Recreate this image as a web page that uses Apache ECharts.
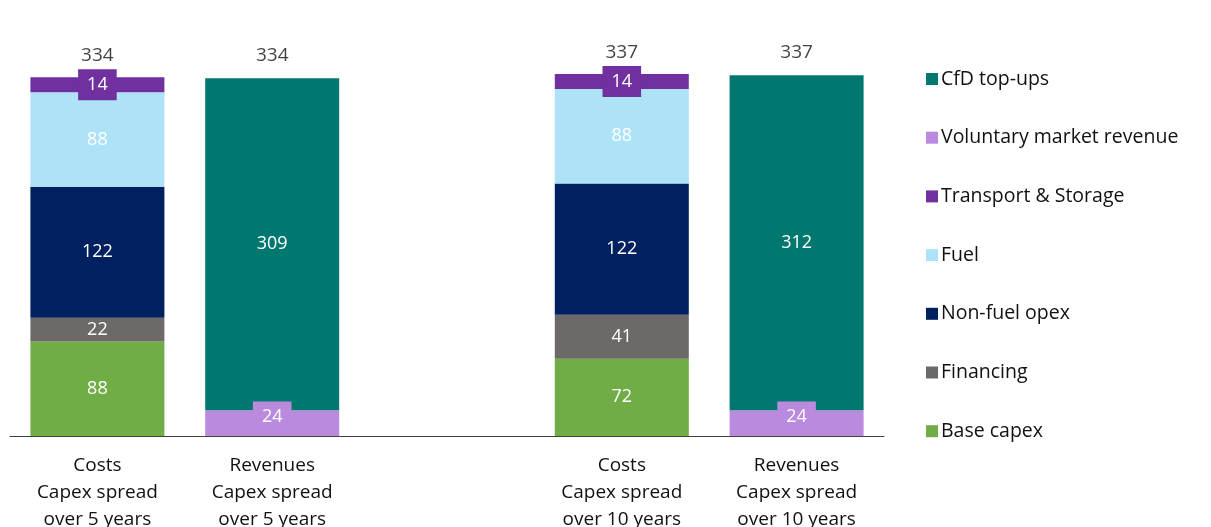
<!DOCTYPE html>
<html><head><meta charset="utf-8">
<script src="https://cdn.jsdelivr.net/npm/echarts@6/dist/echarts.min.js"></script>
<style>html,body{margin:0;padding:0;background:#fff}#c{width:1211px;height:527px}</style>
</head><body><div id="c"></div>
<script>
var categories = ['Costs\nCapex spread\nover 5 years', 'Revenues\nCapex spread\nover 5 years', '', 'Costs\nCapex spread\nover 10 years', 'Revenues\nCapex spread\nover 10 years'];
var baseCapex = [88, null, null, 72, null];
var financing = [22, null, null, 41, null];
var nonFuelOpex = [122, null, null, 122, null];
var fuel = [88, null, null, 88, null];
var transportStorage = [14, null, null, 14, null];
var voluntaryRevenue = [null, 24, null, null, 24];
var cfdTopUps = [null, 309, null, null, 312];
var totals = [334, 334, null, 337, 337];
var legendOrder = ['CfD top-ups', 'Voluntary market revenue', 'Transport & Storage', 'Fuel', 'Non-fuel opex', 'Financing', 'Base capex'];

var FONT = 'Open Sans';
function seg(name, data, color, extraLabel) {
  var lbl = {show: true, position: 'inside', color: '#fff', fontFamily: FONT, fontSize: 18};
  if (extraLabel) { for (var k in extraLabel) lbl[k] = extraLabel[k]; }
  return {name: name, type: 'bar', stack: 'a', data: data, barWidth: 134,
    itemStyle: {color: color}, label: lbl, emphasis: {disabled: true}};
}
var chart = echarts.init(document.getElementById('c'));
chart.setOption({
  animation: false,
  grid: {left: 10, width: 874, top: 6.4, bottom: 91, containLabel: false, outerBoundsMode: 'none'},
  xAxis: {type: 'category', data: categories,
    axisLine: {lineStyle: {color: '#404040', width: 1}}, axisTick: {show: false},
    axisLabel: {color: '#111', fontFamily: FONT, fontSize: 19, lineHeight: 27, margin: 16, interval: 0}},
  yAxis: {type: 'value', min: 0, max: 400, show: false, splitLine: {show: false}},
  legend: {orient: 'vertical', left: 921, top: 64, itemWidth: 12, itemHeight: 12, itemGap: 38.7,
    icon: 'rect', data: legendOrder, selectedMode: false, itemStyle: {borderWidth: 0},
    textStyle: {color: '#111', fontFamily: FONT, fontSize: 19.5, lineHeight: 20, padding: [0, 0, 0, -2]}},
  series: [
    seg('Base capex', baseCapex, '#70AD47'),
    seg('Financing', financing, '#6E6969'),
    seg('Non-fuel opex', nonFuelOpex, '#002060'),
    seg('Fuel', fuel, '#AEE2F6'),
    seg('Transport & Storage', transportStorage, '#7030A0', {backgroundColor: '#7030A0', padding: [7, 9, 6, 9]}),
    seg('Voluntary market revenue', voluntaryRevenue, '#B98ADE', {backgroundColor: '#B98ADE', padding: [7, 9, 6, 9], offset: [0, -6]}),
    seg('CfD top-ups', cfdTopUps, '#00776F'),
    {name: 'Total', type: 'scatter', data: totals, symbolSize: 0, silent: true,
      label: {show: true, position: 'top', distance: 12, color: '#111', fontFamily: FONT, fontSize: 19}}
  ]
});
</script></body></html>
